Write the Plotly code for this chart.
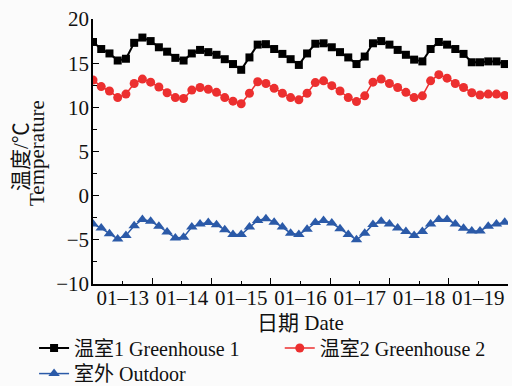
import plotly.graph_objects as go

# observation index (one sample every ~3.3 h, 7.2 samples per day)
obs = list(range(51))
samples_per_day = 7.2

date_labels = ["01–13", "01–14", "01–15", "01–16", "01–17", "01–18", "01–19"]

greenhouse1 = [17.4, 16.6, 16.1, 15.3, 15.5, 17.3, 17.9, 17.5, 16.8, 16.3,
               15.6, 15.3, 16.1, 16.5, 16.25, 15.95, 15.45, 14.9, 14.25, 15.65,
               17.1, 17.15, 16.6, 16.05, 15.45, 14.8, 16.1, 17.2, 17.25, 16.8,
               16.25, 15.65, 14.9, 15.75, 17.25, 17.5, 17.1, 16.5, 15.95, 15.4,
               15.2, 16.6, 17.4, 17.1, 16.6, 16.05, 15.1, 15.1, 15.2, 15.2, 14.9]

greenhouse2 = [13.1, 12.35, 11.85, 11.1, 11.5, 12.7, 13.2, 12.85, 12.3, 11.65,
               11.1, 11.0, 11.95, 12.25, 12.05, 11.7, 11.1, 10.7, 10.4, 11.6,
               12.9, 12.7, 12.15, 11.6, 11.1, 10.85, 11.6, 12.8, 13.0, 12.45,
               11.85, 11.1, 10.65, 11.3, 12.85, 13.2, 12.7, 12.25, 11.7, 11.1,
               11.3, 13.0, 13.7, 13.3, 12.7, 12.25, 11.65, 11.4, 11.5, 11.5, 11.35]

outdoor = [-3.2, -3.67, -4.3, -4.9, -4.5, -3.4, -2.7, -2.9, -3.45, -4.1,
           -4.8, -4.7, -3.55, -3.2, -3.05, -3.3, -3.85, -4.4, -4.4, -3.55,
           -2.8, -2.6, -3.0, -3.55, -4.25, -4.4, -3.8, -3.05, -2.8, -3.1,
           -3.75, -4.4, -5.0, -4.25, -3.25, -2.9, -3.2, -3.65, -4.05, -4.5,
           -4.05, -3.2, -2.7, -2.7, -3.2, -3.7, -4.0, -4.0, -3.45, -3.2, -3.0]

names = ["温室1 Greenhouse 1", "温室2 Greenhouse 2", "室外 Outdoor"]
y_title_lines = ["温度/℃", "Temperature"]
x_title = "日期 Date"

font_family = "Liberation Serif, Noto Sans CJK SC, serif"

n_days = len(date_labels)
label_pos = [(d + 0.5) * samples_per_day for d in range(n_days)]
day_bounds = [d * samples_per_day for d in range(n_days + 1)]

fig = go.Figure()
fig.add_trace(go.Scatter(
    x=obs, y=greenhouse1, name=names[0], mode="lines+markers",
    line=dict(color="#000000", width=2),
    marker=dict(symbol="square", size=8, color="#000000"),
    legend="legend"))
fig.add_trace(go.Scatter(
    x=obs, y=greenhouse2, name=names[1], mode="lines+markers",
    line=dict(color="#ec2f2f", width=1.5),
    marker=dict(symbol="circle", size=9, color="#ec2f2f"),
    legend="legend2"))
fig.add_trace(go.Scatter(
    x=obs, y=outdoor, name=names[2], mode="lines+markers",
    line=dict(color="#2b5aa8", width=1.5),
    marker=dict(symbol="triangle-up", size=10, color="#2b5aa8"),
    legend="legend3"))

leg_common = dict(orientation="h", xanchor="left", yanchor="middle",
                  font=dict(family=font_family, size=20, color="#111111"),
                  bgcolor="rgba(0,0,0,0)")

fig.update_layout(
    width=512, height=386,
    margin=dict(l=93, r=4, t=19, b=102, autoexpand=False),
    paper_bgcolor="#fbfbfb", plot_bgcolor="#fbfbfb",
    font=dict(family=font_family, size=21, color="#111111"),
    showlegend=True,
    legend=dict(x=-0.142, y=-0.2415, **leg_common),
    legend2=dict(x=0.45, y=-0.2415, **leg_common),
    legend3=dict(x=-0.142, y=-0.338, **leg_common),
    xaxis=dict(
        range=[0, n_days * samples_per_day],
        tickmode="array", tickvals=label_pos, ticktext=date_labels,
        ticks="inside", ticklen=3, tickwidth=1.2, tickcolor="#000",
        minor=dict(tickmode="array", tickvals=day_bounds, ticks="inside",
                   ticklen=6, tickwidth=1.2, tickcolor="#000"),
        showline=True, linecolor="#000", linewidth=1.5,
        showgrid=False, zeroline=False,
        ticklabelstandoff=-6,
        title=dict(text=x_title, standoff=6,
                   font=dict(family=font_family, size=21)),
        tickfont=dict(family=font_family, size=21),
    ),
    yaxis=dict(
        range=[-10, 20], tickmode="linear", tick0=-10, dtick=5,
        ticks="inside", ticklen=6, tickwidth=1.2, tickcolor="#000",
        minor=dict(dtick=2.5, ticks="inside", ticklen=4, tickwidth=1.2, tickcolor="#000"),
        showline=True, linecolor="#000", linewidth=1.5,
        showgrid=False, zeroline=False,
        ticklabelstandoff=-2,
        tickfont=dict(family=font_family, size=21),
    ),
    annotations=[
        dict(text=y_title_lines[0], textangle=-90, xref="paper", yref="paper",
             x=(21 - 93) / 415, y=(284 - 157) / 265, xanchor="center", yanchor="middle",
             showarrow=False, font=dict(family=font_family, size=21)),
        dict(text=y_title_lines[1], textangle=-90, xref="paper", yref="paper",
             x=(37 - 93) / 415, y=(284 - 153) / 265, xanchor="center", yanchor="middle",
             showarrow=False, font=dict(family=font_family, size=21)),
    ],
)

fig.write_html("out.html")
